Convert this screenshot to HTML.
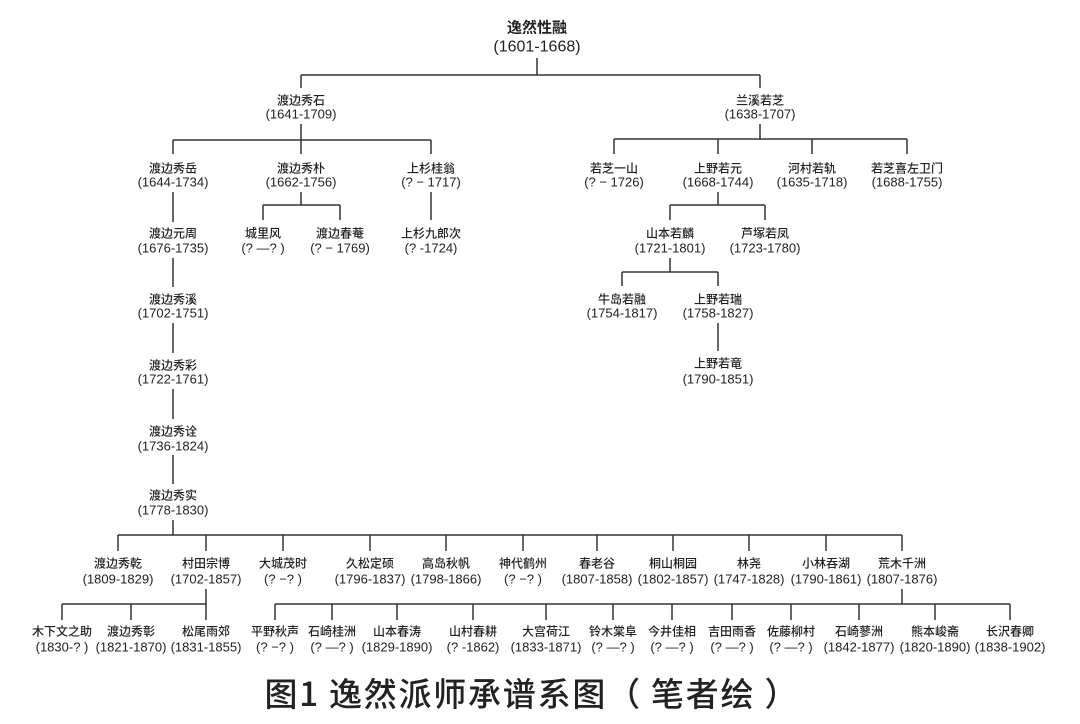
<!DOCTYPE html>
<html><head><meta charset="utf-8"><style>
html,body{margin:0;padding:0;background:#fff;}
svg{display:block;}
text{font-family:"Liberation Sans","Noto Sans CJK SC",sans-serif;fill:#222;text-anchor:middle;dominant-baseline:central;}
.n{font-size:12px;font-family:"Noto Sans CJK SC",sans-serif;font-weight:500;}
.y{font-size:13px;}
line,path{stroke:#333;stroke-width:1.5;fill:none;}
</style></head><body>
<svg width="1080" height="724" viewBox="0 0 1080 724" xmlns="http://www.w3.org/2000/svg">
<!-- top -->
<text x="537" y="27" style="font-size:15px;font-family:'Noto Sans CJK SC',sans-serif;font-weight:600">逸然性融</text>
<text x="537" y="47" style="font-size:16px">(1601-1668)</text>
<path d="M537 58V75M301 75H760M301 75V88M760 75V88"/>
<!-- left branch -->
<text class="n" x="301" y="100">渡边秀石</text><text class="y" x="301" y="114">(1641-1709)</text>
<path d="M301 124V140M173 140H431M173 140V154M301 140V154M431 140V154"/>
<text class="n" x="173" y="168">渡边秀岳</text><text class="y" x="173" y="182">(1644-1734)</text>
<text class="n" x="301" y="168">渡边秀朴</text><text class="y" x="301" y="182">(1662-1756)</text>
<text class="n" x="431" y="168">上杉桂翁</text><text class="y" x="431" y="182">(? − 1717)</text>
<path d="M301 192V205M263 205H340M263 205V220M340 205V220M431 192V220"/>
<text class="n" x="263" y="233">城里风</text><text class="y" x="263" y="248">(? —? )</text>
<text class="n" x="340" y="233">渡边春菴</text><text class="y" x="340" y="248">(? − 1769)</text>
<text class="n" x="431" y="233">上杉九郎次</text><text class="y" x="431" y="248">(? -1724)</text>
<path d="M173 192V222M173 258V287M173 323V353M173 389V419M173 455V484"/>
<text class="n" x="173" y="233">渡边元周</text><text class="y" x="173" y="248">(1676-1735)</text>
<text class="n" x="173" y="299">渡边秀溪</text><text class="y" x="173" y="313">(1702-1751)</text>
<text class="n" x="173" y="365">渡边秀彩</text><text class="y" x="173" y="379">(1722-1761)</text>
<text class="n" x="173" y="431">渡边秀诠</text><text class="y" x="173" y="446">(1736-1824)</text>
<text class="n" x="173" y="495">渡边秀实</text><text class="y" x="173" y="510">(1778-1830)</text>
<path d="M173 520V535M118 535H902"/>
<path d="M118 535V551M206 535V551M283 535V551M370 535V551M446 535V551M523 535V551M597 535V551M673 535V551M749 535V551M826 535V551M902 535V551"/>
<text class="n" x="118" y="563">渡边秀乾</text><text class="y" x="118" y="579">(1809-1829)</text>
<text class="n" x="206" y="563">村田宗博</text><text class="y" x="206" y="579">(1702-1857)</text>
<text class="n" x="283" y="563">大城茂时</text><text class="y" x="283" y="579">(? −? )</text>
<text class="n" x="370" y="563">久松定硕</text><text class="y" x="370" y="579">(1796-1837)</text>
<text class="n" x="446" y="563">高岛秋帆</text><text class="y" x="446" y="579">(1798-1866)</text>
<text class="n" x="523" y="563">神代鹤州</text><text class="y" x="523" y="579">(? −? )</text>
<text class="n" x="597" y="563">春老谷</text><text class="y" x="597" y="579">(1807-1858)</text>
<text class="n" x="673" y="563">桐山桐园</text><text class="y" x="673" y="579">(1802-1857)</text>
<text class="n" x="749" y="563">林尧</text><text class="y" x="749" y="579">(1747-1828)</text>
<text class="n" x="826" y="563">小林吞湖</text><text class="y" x="826" y="579">(1790-1861)</text>
<text class="n" x="902" y="563">荒木千洲</text><text class="y" x="902" y="579">(1807-1876)</text>
<path d="M206 589V604M62 604H206M62 604V620M131 604V620M206 604V620"/>
<path d="M902 589V604M275 604H1010"/>
<path d="M275 604V620M332 604V620M397 604V620M473 604V620M546 604V620M613 604V620M672 604V620M732 604V620M791 604V620M859 604V620M935 604V620M1010 604V620"/>
<text class="n" x="62" y="631">木下文之助</text><text class="y" x="62" y="647">(1830-? )</text>
<text class="n" x="131" y="631">渡边秀彰</text><text class="y" x="131" y="647">(1821-1870)</text>
<text class="n" x="206" y="631">松尾雨郊</text><text class="y" x="206" y="647">(1831-1855)</text>
<text class="n" x="275" y="631">平野秋声</text><text class="y" x="275" y="647">(? −? )</text>
<text class="n" x="332" y="631">石崎桂洲</text><text class="y" x="332" y="647">(? —? )</text>
<text class="n" x="397" y="631">山本春涛</text><text class="y" x="397" y="647">(1829-1890)</text>
<text class="n" x="473" y="631">山村春耕</text><text class="y" x="473" y="647">(? -1862)</text>
<text class="n" x="546" y="631">大宫荷江</text><text class="y" x="546" y="647">(1833-1871)</text>
<text class="n" x="613" y="631">铃木棠阜</text><text class="y" x="613" y="647">(? —? )</text>
<text class="n" x="672" y="631">今井佳相</text><text class="y" x="672" y="647">(? —? )</text>
<text class="n" x="732" y="631">吉田雨香</text><text class="y" x="732" y="647">(? —? )</text>
<text class="n" x="791" y="631">佐藤柳村</text><text class="y" x="791" y="647">(? —? )</text>
<text class="n" x="859" y="631">石崎蓼洲</text><text class="y" x="859" y="647">(1842-1877)</text>
<text class="n" x="935" y="631">熊本峻斋</text><text class="y" x="935" y="647">(1820-1890)</text>
<text class="n" x="1010" y="631">长沢春卿</text><text class="y" x="1010" y="647">(1838-1902)</text>
<!-- right branch -->
<text class="n" x="760" y="100">兰溪若芝</text><text class="y" x="760" y="114">(1638-1707)</text>
<path d="M760 124V139M614 139H907M614 139V154M718 139V154M812 139V154M907 139V154"/>
<text class="n" x="614" y="168">若芝一山</text><text class="y" x="614" y="182">(? − 1726)</text>
<text class="n" x="718" y="168">上野若元</text><text class="y" x="718" y="182">(1668-1744)</text>
<text class="n" x="812" y="168">河村若轨</text><text class="y" x="812" y="182">(1635-1718)</text>
<text class="n" x="907" y="168">若芝喜左卫门</text><text class="y" x="907" y="182">(1688-1755)</text>
<path d="M718 192V205M670 205H765M670 205V220M765 205V220"/>
<text class="n" x="670" y="233">山本若麟</text><text class="y" x="670" y="248">(1721-1801)</text>
<text class="n" x="765" y="233">芦塚若凤</text><text class="y" x="765" y="248">(1723-1780)</text>
<path d="M670 258V272M622 272H718M622 272V286M718 272V286"/>
<text class="n" x="622" y="299">牛岛若融</text><text class="y" x="622" y="313">(1754-1817)</text>
<text class="n" x="718" y="299">上野若瑞</text><text class="y" x="718" y="313">(1758-1827)</text>
<path d="M718 323V351"/>
<text class="n" x="718" y="363">上野若竜</text><text class="y" x="718" y="379">(1790-1851)</text>
<!-- caption -->
<text x="531" y="692" textLength="533" lengthAdjust="spacing" style="font-size:33px;font-family:'Noto Sans CJK SC',sans-serif;font-weight:500">图1 逸然派师承谱系图（ 笔者绘 ）</text>
</svg>
</body></html>
